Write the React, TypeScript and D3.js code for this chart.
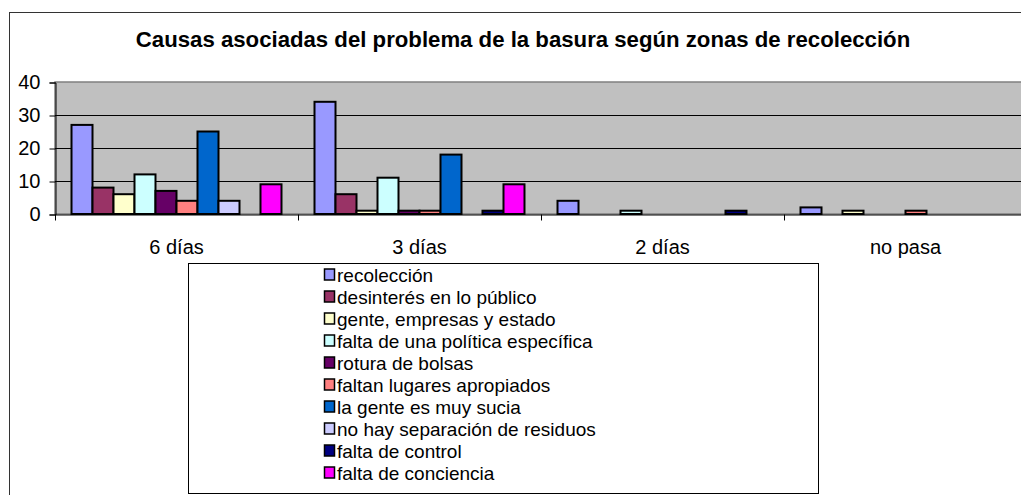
import React, { useEffect, useRef } from 'react';
import * as d3 from 'd3';

// zonas de recolección (eje X)
const zones = ['6 días', '3 días', '2 días', 'no pasa'];

// causas (series)
const causes = [
  'recolección',
  'desinterés en lo público',
  'gente, empresas y estado',
  'falta de una política específica',
  'rotura de bolsas',
  'faltan lugares apropiados',
  'la gente es muy sucia',
  'no hay separación de residuos',
  'falta de control',
  'falta de conciencia',
];

const causeColors = [
  '#9999FF', '#993366', '#FFFFCC', '#CCFFFF', '#660066',
  '#FF8080', '#0066CC', '#CCCCFF', '#000080', '#FF00FF',
];

// valores por causa, en el orden de zones
const recoleccion = [27, 34, 4, 2];
const desinteres = [8, 6, 0, 0];
const genteEmpresas = [6, 1, 0, 1];
const faltaPolitica = [12, 11, 1, 0];
const roturaBolsas = [7, 1, 0, 0];
const faltanLugares = [4, 1, 0, 1];
const genteSucia = [25, 18, 0, 0];
const noSeparacion = [4, 0, 0, 0];
const faltaControl = [0, 1, 1, 0];
const faltaConciencia = [9, 9, 0, 0];

const seriesValues = [
  recoleccion, desinteres, genteEmpresas, faltaPolitica, roturaBolsas,
  faltanLugares, genteSucia, noSeparacion, faltaControl, faltaConciencia,
];

const yTicks = [0, 10, 20, 30, 40];

const FONT = '"Liberation Sans", Arial, sans-serif';

export default function App() {
  const ref = useRef<SVGSVGElement>(null);

  useEffect(() => {
    const svg = d3.select(ref.current);
    svg.selectAll('*').remove();

    // marco del gráfico
    svg.append('rect')
      .attr('x', 9.5).attr('y', 12.5)
      .attr('width', 1030).attr('height', 500)
      .attr('fill', '#fff').attr('stroke', '#333');

    svg.append('text')
      .attr('x', 523).attr('y', 47)
      .attr('text-anchor', 'middle')
      .attr('font-family', FONT).attr('font-size', 22.2).attr('font-weight', 'bold')
      .text('Causas asociadas del problema de la basura según zonas de recolección');

    const left = 55, right = 1027, top = 82, bottom = 214;

    const x0 = d3.scaleBand().domain(zones).range([left, right]).padding(0);
    const x1 = d3.scaleBand<number>()
      .domain(d3.range(causes.length))
      .range([0, x0.bandwidth()])
      .paddingInner(0)
      .paddingOuter(0.786);
    const y = d3.scaleLinear().domain([0, 40]).range([bottom, top]);

    // área de trazado
    svg.append('rect')
      .attr('x', left).attr('y', top)
      .attr('width', right - left).attr('height', bottom - top)
      .attr('fill', '#C0C0C0').attr('stroke', '#808080').attr('stroke-width', 1.5);

    // líneas de división
    svg.append('g').selectAll('line')
      .data(yTicks.filter(t => t > 0 && t < 40))
      .enter().append('line')
      .attr('x1', left).attr('x2', right)
      .attr('y1', d => Math.round(y(d)) + 0.5).attr('y2', d => Math.round(y(d)) + 0.5)
      .attr('stroke', '#000');

    // barras
    const groups = svg.append('g').selectAll('g')
      .data(zones)
      .enter().append('g')
      .attr('transform', d => `translate(${x0(d)},0)`);

    groups.selectAll('rect')
      .data((_, zi) => seriesValues.map((vals, si) => ({ si, v: vals[zi] })).filter(d => d.v > 0))
      .enter().append('rect')
      .attr('x', d => x1(d.si)!)
      .attr('y', d => y(d.v))
      .attr('width', x1.bandwidth())
      .attr('height', d => y(0) - y(d.v))
      .attr('fill', d => causeColors[d.si])
      .attr('stroke', '#000')
      .attr('stroke-width', 2);

    // eje Y
    const yAxis = d3.axisLeft(y).tickValues(yTicks).tickSize(6).tickPadding(9);
    const gy = svg.append('g')
      .attr('transform', `translate(${left + 0.5},0.5)`)
      .call(yAxis);
    gy.select('.domain').attr('stroke', '#000');
    gy.selectAll('text').attr('font-family', FONT).attr('font-size', 20).attr('fill', '#000');

    // eje X
    const xAxis = d3.axisBottom(x0).tickSize(0).tickPadding(25);
    const gx = svg.append('g')
      .attr('transform', `translate(0,${bottom + 0.5})`)
      .call(xAxis);
    gx.select('.domain').attr('stroke', '#000');
    gx.selectAll('text').attr('font-family', FONT).attr('font-size', 20).attr('fill', '#000');
    gx.selectAll('line.sep')
      .data(zones)
      .enter().append('line')
      .attr('class', 'sep')
      .attr('x1', d => Math.round(x0(d)!) + 0.5).attr('x2', d => Math.round(x0(d)!) + 0.5)
      .attr('y1', 0).attr('y2', 6)
      .attr('stroke', '#000');

    // leyenda
    const lg = svg.append('g');
    lg.append('rect')
      .attr('x', 188.5).attr('y', 263.5)
      .attr('width', 630).attr('height', 230)
      .attr('fill', '#fff').attr('stroke', '#000');

    const rowH = 22;
    const rows = lg.selectAll('g.item')
      .data(causes)
      .enter().append('g')
      .attr('class', 'item')
      .attr('transform', (_, i) => `translate(324,${282 + i * rowH})`);
    rows.append('rect')
      .attr('x', 0.5).attr('y', -13)
      .attr('width', 10).attr('height', 11)
      .attr('fill', (_, i) => causeColors[i])
      .attr('stroke', '#000').attr('stroke-width', 1.5);
    rows.append('text')
      .attr('x', 13).attr('y', 0)
      .attr('font-family', FONT).attr('font-size', 19)
      .text(d => d);
  }, []);

  return (
    <svg
      ref={ref}
      width={1021}
      height={495}
      style={{ position: 'absolute', left: 0, top: 0, background: '#fff' }}
    />
  );
}
